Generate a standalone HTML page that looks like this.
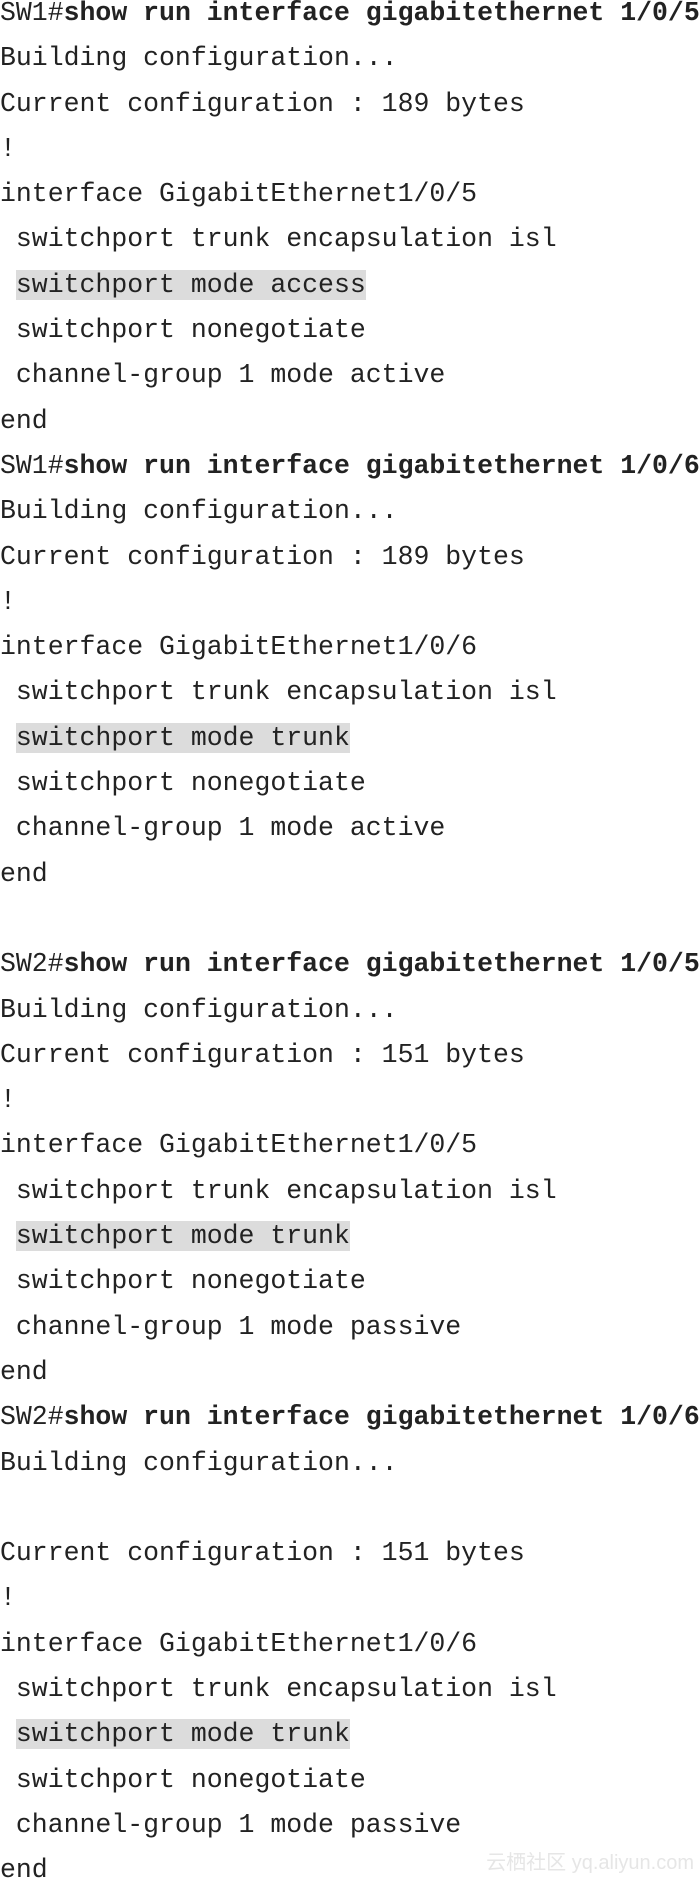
<!DOCTYPE html>
<html><head><meta charset="utf-8"><style>
html,body{margin:0;padding:0;background:#fff;width:700px;height:1879px;overflow:hidden}
pre{margin:0;position:absolute;top:-9px;left:0;font-family:"Liberation Mono",monospace;font-size:26.5px;line-height:45.3px;color:#222;white-space:pre}
b{font-weight:bold}
.h{background:#dcdcdc}
.wm{position:absolute;right:6px;top:1846px;font-family:"Liberation Sans","Noto Sans CJK SC",sans-serif;font-size:20px;color:#e6e6e6}
</style></head><body>
<pre>SW1#<b>show run interface gigabitethernet 1/0/5</b>
Building configuration...
Current configuration : 189 bytes
!
interface GigabitEthernet1/0/5
 switchport trunk encapsulation isl
 <span class="h">switchport mode access</span>
 switchport nonegotiate
 channel-group 1 mode active
end
SW1#<b>show run interface gigabitethernet 1/0/6</b>
Building configuration...
Current configuration : 189 bytes
!
interface GigabitEthernet1/0/6
 switchport trunk encapsulation isl
 <span class="h">switchport mode trunk</span>
 switchport nonegotiate
 channel-group 1 mode active
end

SW2#<b>show run interface gigabitethernet 1/0/5</b>
Building configuration...
Current configuration : 151 bytes
!
interface GigabitEthernet1/0/5
 switchport trunk encapsulation isl
 <span class="h">switchport mode trunk</span>
 switchport nonegotiate
 channel-group 1 mode passive
end
SW2#<b>show run interface gigabitethernet 1/0/6</b>
Building configuration...

Current configuration : 151 bytes
!
interface GigabitEthernet1/0/6
 switchport trunk encapsulation isl
 <span class="h">switchport mode trunk</span>
 switchport nonegotiate
 channel-group 1 mode passive
end</pre>
<div class="wm">云栖社区 yq.aliyun.com</div>
</body></html>
